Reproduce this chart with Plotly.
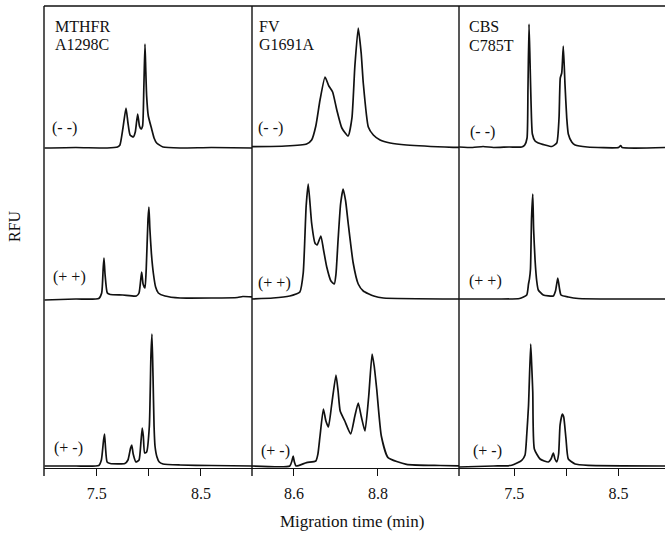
import plotly.graph_objects as go

# ---------------- data (migration time in min, RFU above baseline) ----------------
PANEL_TITLES = [("MTHFR", "A1298C"), ("FV", "G1691A"), ("CBS", "C785T")]
GENOTYPES = ["(- -)", "(+ +)", "(+ -)"]

# MTHFR A1298C
mthfr_nn_t = [7.0, 7.3, 7.6, 7.70, 7.723, 7.752, 7.781, 7.80, 7.82, 7.851, 7.87, 7.893, 7.91, 7.925, 7.94,
              7.952, 7.963, 7.97, 7.979, 7.995, 8.027, 8.05, 8.075, 8.136, 8.3, 8.6, 9.0]
mthfr_nn_y = [0, 0.5, 0, 1, 3, 20, 40, 25, 13, 11, 16, 34, 22, 19, 22,
              60, 104, 80, 52, 32, 19, 10, 5, 1, 0, 0.5, 0]
mthfr_pp_t = [7.0, 7.3, 7.52, 7.548, 7.562, 7.570, 7.58, 7.602, 7.63, 7.75, 7.88, 7.906, 7.931, 7.945, 7.963,
              7.975, 7.992, 8.001, 8.01, 8.025, 8.043, 8.065, 8.091, 8.155, 8.3, 8.6, 8.85, 8.9, 9.0]
mthfr_pp_y = [-1, 0, 0.5, 6, 30, 41, 25, 6, 4.5, 4, 3, 6, 27, 15, 11,
              30, 80, 92, 70, 45, 26, 12, 6, 3, 1, 1, 1.5, 2.5, 2]
mthfr_pn_t = [7.0, 7.3, 7.52, 7.545, 7.565, 7.575, 7.585, 7.60, 7.63, 7.77, 7.80, 7.825, 7.836, 7.85, 7.877,
              7.906, 7.925, 7.937, 7.947, 7.96, 7.979, 8.005, 8.02, 8.03, 8.04, 8.05, 8.059, 8.078, 8.1,
              8.136, 8.3, 8.6, 9.0]
mthfr_pn_y = [0, 0, 0.5, 6, 25, 32, 18, 4, 2.5, 2.5, 6, 18, 21, 12, 4,
              6, 25, 38, 30, 13, 14, 40, 110, 132, 90, 40, 20, 9, 4,
              2, 1, 0.5, 0]

# FV G1691A
fv_nn_t = [8.5, 8.58, 8.63, 8.642, 8.652, 8.662, 8.674, 8.683, 8.692, 8.702, 8.714, 8.729, 8.738, 8.745,
           8.753, 8.76, 8.765, 8.777, 8.789, 8.805, 8.829, 8.868, 8.979, 9.0]
fv_nn_y = [1.3, 2, 4, 8, 22, 48, 71, 62, 56, 38, 20, 12, 30, 82,
           120, 95, 65, 21, 13, 8, 5, 3, 0.7, 0.5]
fv_pp_t = [8.5, 8.55, 8.59, 8.605, 8.614, 8.622, 8.629, 8.634, 8.642, 8.65, 8.655, 8.664, 8.67, 8.678,
           8.688, 8.696, 8.70, 8.705, 8.711, 8.717, 8.723, 8.729, 8.741, 8.753, 8.765, 8.79, 8.813, 9.0]
fv_pp_y = [0, 1, 3, 5, 7, 26, 93, 115, 76, 56, 54, 63, 50, 32,
           18, 15, 25, 59, 95, 110, 98, 76, 36, 15, 8, 3, 1, 0]
fv_pn_t = [8.5, 8.59, 8.595, 8.598, 8.601, 8.605, 8.63, 8.652, 8.657, 8.662, 8.670, 8.676, 8.682, 8.69,
           8.700, 8.705, 8.710, 8.721, 8.735, 8.745, 8.753, 8.76, 8.769, 8.778, 8.786, 8.791, 8.797,
           8.808, 8.824, 8.868, 8.948, 9.0]
fv_pn_y = [0, 0, 5, 10, 4, 0, 3.4, 5, 12, 30, 57, 45, 39, 62,
           91, 75, 55, 45, 32, 50, 63, 50, 35, 70, 112, 100, 77,
           30, 8.4, 1.7, 0.5, 0]

# CBS C785T
cbs_nn_t = [6.97, 7.1, 7.2, 7.3, 7.45, 7.571, 7.60, 7.622, 7.631, 7.641, 7.651, 7.660, 7.673, 7.699, 7.730,
            7.795, 7.859, 7.907, 7.929, 7.941, 7.955, 7.970, 7.986, 8.003, 8.018, 8.051, 8.083, 8.2, 8.5,
            8.521, 8.535, 8.95]
cbs_nn_y = [1, 0.5, 1.5, 0.5, 1, 1, 3, 10, 60, 124, 85, 47, 14, 7, 5,
            3, 1.5, 5, 30, 70, 75, 102, 64, 30, 14, 6, 3, 1, 0.5,
            2.5, 0.5, 0.5]
cbs_pp_t = [6.97, 7.3, 7.55, 7.619, 7.636, 7.645, 7.655, 7.665, 7.677, 7.685, 7.699, 7.715, 7.730, 7.778,
            7.874, 7.895, 7.917, 7.934, 7.948, 8.018, 8.114, 8.5, 8.95]
cbs_pp_y = [0, 0, 0.5, 4, 15, 20, 30, 80, 105, 70, 39, 18, 9, 4,
            3, 8, 21, 10, 4, 2, 0.5, 0, 0]
cbs_pn_t = [6.97, 7.3, 7.475, 7.571, 7.603, 7.619, 7.636, 7.657, 7.667, 7.677, 7.692, 7.747, 7.826, 7.852,
            7.874, 7.89, 7.907, 7.925, 7.939, 7.961, 7.974, 7.996, 8.018, 8.083, 8.21, 8.95]
cbs_pn_y = [-1, 0, 0.7, 5.7, 11, 31, 60, 122, 100, 74, 17, 7, 4, 7,
            13, 7, 4, 12, 41, 52, 49, 27, 7, 2, 0.7, 0]

# axis settings per column
col_ranges = [[6.995, 8.989], [8.5, 8.993], [6.969, 8.946]]
col_tickvals = [[7.5, 8.0, 8.5], [8.6, 8.8], [7.5, 8.0, 8.5]]
col_ticktext = [["7.5", "", "8.5"], ["8.6", "8.8"], ["7.5", "", "8.5"]]

traces = [
    [(mthfr_nn_t, mthfr_nn_y), (fv_nn_t, fv_nn_y), (cbs_nn_t, cbs_nn_y)],
    [(mthfr_pp_t, mthfr_pp_y), (fv_pp_t, fv_pp_y), (cbs_pp_t, cbs_pp_y)],
    [(mthfr_pn_t, mthfr_pn_y), (fv_pn_t, fv_pn_y), (cbs_pn_t, cbs_pn_y)],
]

# ---------------- layout geometry (pixels) ----------------
W, H = 665, 540
ML, MR, MT, MB = 44, 0, 6, 72
PW, PH = W - ML - MR, H - MT - MB


def px(x):
    return (x - ML) / PW


def py(y):
    return (H - MB - y) / PH


col_px = [(44, 252), (252, 459), (459, 665)]
row_px = [(6, 150), (150, 301), (301, 468)]  # top, bottom of band
row_ranges = [[-2, 142], [-2, 149], [-2, 165]]

fig = go.Figure()
LINE = dict(color="#111111", width=1.7, shape="spline", smoothing=0.5)
SERIF = "Liberation Serif, Times New Roman, serif"

for r in range(3):
    for c in range(3):
        t, y = traces[r][c]
        xa = "x" if c == 0 else f"x{c + 1}"
        ya = "y" if r == 0 else f"y{r + 1}"
        fig.add_trace(go.Scatter(x=t, y=y, mode="lines", line=LINE, xaxis=xa, yaxis=ya,
                                 hoverinfo="skip", showlegend=False))

layout = {}
for c in range(3):
    key = "xaxis" if c == 0 else f"xaxis{c + 1}"
    layout[key] = dict(domain=[px(col_px[c][0]), px(col_px[c][1])], range=col_ranges[c],
                       anchor="y3", showgrid=False, zeroline=False, showline=True,
                       linecolor="#111111", linewidth=1.4, ticks="outside", ticklen=7,
                       tickwidth=1.3, tickcolor="#111111", tickvals=col_tickvals[c],
                       ticktext=col_ticktext[c], ticklabelstandoff=4,
                       tickfont=dict(family=SERIF, size=16, color="#111111"))
for r in range(3):
    key = "yaxis" if r == 0 else f"yaxis{r + 1}"
    layout[key] = dict(domain=[py(row_px[r][1]), py(row_px[r][0])], range=row_ranges[r],
                       anchor="x", showgrid=False, zeroline=False, showline=False,
                       showticklabels=False, ticks="")
fig.update_layout(**layout)

# frame lines
shapes = [dict(type="line", xref="paper", yref="paper", x0=px(44), x1=px(665), y0=py(6), y1=py(6),
               line=dict(color="#111111", width=1.4))]
for xb in [44, 252, 459]:
    shapes.append(dict(type="line", xref="paper", yref="paper", x0=px(xb), x1=px(xb),
                       y0=py(6), y1=py(476), line=dict(color="#111111", width=1.4)))

annotations = []
title_pos = [(53, 27, 45), (257, 27, 45), (467, 27, 46)]
for c, (l1, l2) in enumerate(PANEL_TITLES):
    x0, y1, y2 = title_pos[c]
    for txt, yy in ((l1, y1), (l2, y2)):
        annotations.append(dict(text=txt, x=px(x0), y=py(yy), xref="paper", yref="paper",
                                xanchor="left", yanchor="middle", showarrow=False,
                                font=dict(family=SERIF, size=16, color="#111111")))
geno_pos = [
    [(50, 128), (256, 128), (468, 132)],
    [(51, 277), (256, 283), (467, 281)],
    [(52, 448), (259, 451), (471, 451)],
]
for r in range(3):
    for c in range(3):
        x0, yy = geno_pos[r][c]
        annotations.append(dict(text=GENOTYPES[r], x=px(x0), y=py(yy), xref="paper", yref="paper",
                                xanchor="left", yanchor="middle", showarrow=False,
                                font=dict(family=SERIF, size=16, color="#111111")))
annotations.append(dict(text="Migration time (min)", x=px(352), y=py(521), xref="paper", yref="paper",
                        xanchor="center", yanchor="middle", showarrow=False,
                        font=dict(family=SERIF, size=17, color="#111111")))
annotations.append(dict(text="RFU", x=px(14), y=py(226), xref="paper", yref="paper",
                        xanchor="center", yanchor="middle", showarrow=False, textangle=-90,
                        font=dict(family=SERIF, size=16, color="#111111")))

fig.update_layout(width=W, height=H, margin=dict(l=ML, r=MR, t=MT, b=MB, pad=0),
                  paper_bgcolor="white", plot_bgcolor="white", shapes=shapes,
                  annotations=annotations, showlegend=False)

fig.write_html("out.html", config={"displayModeBar": False},
               post_script="document.body.style.margin='0';document.body.style.padding='0';"
                           "document.documentElement.style.overflow='hidden';")
